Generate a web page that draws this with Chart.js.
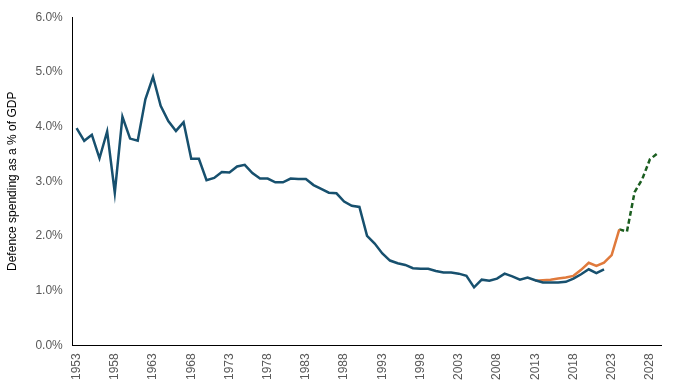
<!DOCTYPE html>
<html>
<head>
<meta charset="utf-8">
<script src="https://cdn.jsdelivr.net/npm/chart.js@4.4.1/dist/chart.umd.min.js"></script>
<style>
  html, body { margin: 0; padding: 0; background: #fff; }
  #wrap { width: 680px; height: 392px; }
</style>
</head>
<body>
<div id="wrap"><canvas id="defenceChart"></canvas></div>
<script>
// Years on the category axis (1953 - 2029)
const years = [];
for (let y = 1953; y <= 2029; y++) years.push(String(y));

// Historical series, 1953 - 2022
const historical = [
  3.97, 3.74, 3.85, 3.42, 3.91, 2.79, 4.18, 3.78, 3.74, 4.50,
  4.91, 4.38, 4.10, 3.92, 4.08, 3.41, 3.41, 3.02, 3.06, 3.17,
  3.16, 3.27, 3.30, 3.15, 3.05, 3.05, 2.98, 2.98, 3.05, 3.04,
  3.04, 2.93, 2.86, 2.79, 2.78, 2.63, 2.55, 2.53, 2.00, 1.86,
  1.68, 1.55, 1.50, 1.47, 1.41, 1.40, 1.40, 1.36, 1.33, 1.33,
  1.31, 1.27, 1.06, 1.20, 1.18, 1.22, 1.31, 1.26, 1.20, 1.24,
  1.19, 1.15, 1.15, 1.15, 1.16, 1.22, 1.30, 1.39, 1.32, 1.39
];

// Second estimate series, 2013 - 2024
const estimateStart = 2013;
const estimate = [1.18, 1.19, 1.20, 1.22, 1.24, 1.27, 1.38, 1.51, 1.45, 1.51, 1.65, 2.12];

// Projection, 2024 - 2029
const projectionStart = 2024;
const projection = [2.12, 2.08, 2.80, 3.04, 3.40, 3.51];

// pad a series with nulls so it lines up with the years
function alignSeries(startYear, values) {
  const out = years.map(() => null);
  const offset = startYear - 1953;
  values.forEach((v, i) => { out[offset + i] = v; });
  return out;
}

const tickFont = { family: "'Liberation Sans', Arial, sans-serif", size: 12 };
const tickColor = "#595959";

const ctx = document.getElementById("defenceChart").getContext("2d");

new Chart(ctx, {
  type: "line",
  data: {
    labels: years,
    datasets: [
      {
        label: "Historical",
        data: alignSeries(1953, historical),
        borderColor: "#17506e",
        borderWidth: 2.5,
        pointRadius: 0,
        tension: 0,
      },
      {
        label: "Estimate",
        data: alignSeries(estimateStart, estimate),
        borderColor: "#e07a3c",
        borderWidth: 2.5,
        pointRadius: 0,
        tension: 0,
      },
      {
        label: "Projection",
        data: alignSeries(projectionStart, projection),
        borderColor: "#1b5e20",
        borderWidth: 2.5,
        borderDash: [5, 3],
        pointRadius: 0,
        tension: 0,
      },
    ],
  },
  options: {
    responsive: true,
    maintainAspectRatio: false,
    animation: false,
    layout: {
      padding: { top: 4, right: 11, bottom: 4, left: 5 },
    },
    plugins: {
      legend: { display: false },
      tooltip: { enabled: false },
    },
    scales: {
      x: {
        type: "category",
        offset: true,
        grid: { display: false, drawTicks: false },
        border: { display: true, color: "#000", width: 1 },
        ticks: {
          autoSkip: false,
          minRotation: 90,
          maxRotation: 90,
          padding: 8,
          color: tickColor,
          font: tickFont,
          callback: function (value, index) {
            return (index % 5 === 0) ? this.getLabelForValue(value) : "";
          },
        },
      },
      y: {
        min: 0,
        max: 6,
        grid: { display: false, drawTicks: false },
        border: { display: true, color: "#000", width: 1 },
        ticks: {
          stepSize: 1,
          padding: 10,
          color: tickColor,
          font: tickFont,
          callback: (v) => v.toFixed(1) + "%",
        },
        title: {
          display: true,
          text: "Defence spending as a % of GDP",
          color: "#000",
          font: tickFont,
          padding: { top: 0, bottom: 6 },
        },
      },
    },
  },
});
</script>
</body>
</html>
